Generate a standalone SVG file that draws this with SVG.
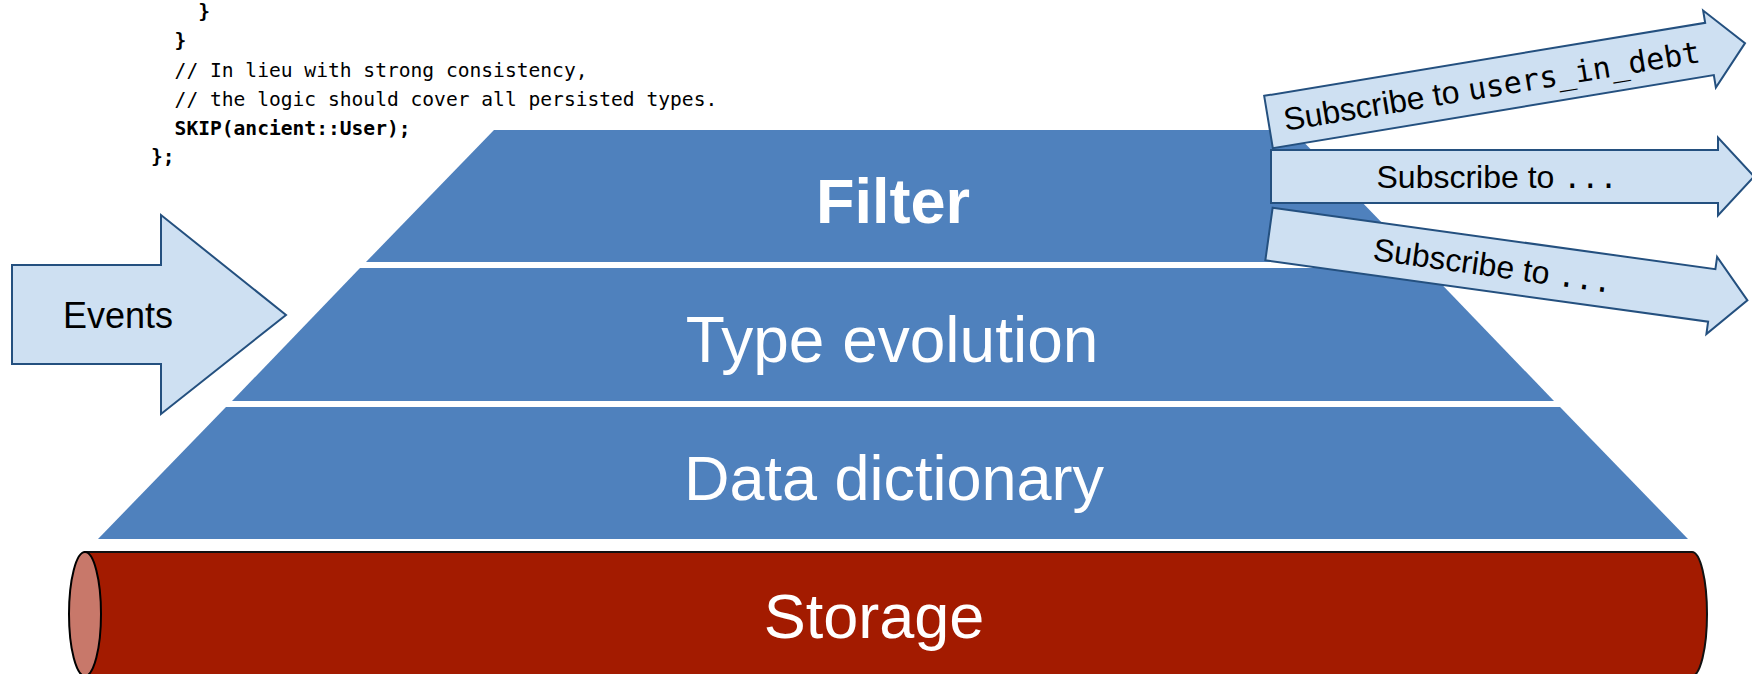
<svg xmlns="http://www.w3.org/2000/svg" width="1752" height="674" viewBox="0 0 1752 674">
  <defs>
    <style>
      .layer { fill: #4F81BD; }
      .layer-label { font-family: "Liberation Sans", Arial, sans-serif; fill: #FFFFFF; text-anchor: middle; font-size: 63px; }
      .block-arrow { fill: #CEE0F2; stroke: #24507F; stroke-width: 2; stroke-linejoin: miter; }
      .arrow-label { font-family: "Liberation Sans", Arial, sans-serif; font-size: 32px; fill: #000000; text-anchor: middle; }
      .mono { font-family: "DejaVu Sans Mono", "Liberation Mono", monospace; font-size: 30px; }
      .code { font-family: "DejaVu Sans Mono", "Liberation Mono", monospace; font-size: 19.6px; fill: #000000; }
      .code-bold { font-weight: bold; }
    </style>
    <!-- Shared outgoing block arrow, origin at the middle of its tail -->
    <path id="out-arrow" d="M0,-26.5 H447 V-39 L483,0 L447,39 V26.5 H0 Z"/>
  </defs>

  <rect width="1752" height="674" fill="#FFFFFF"/>

  <!-- Code excerpt -->
  <g id="code">
    <text class="code code-bold" x="198.2" y="18">}</text>
    <text class="code code-bold" x="174.6" y="47">}</text>
    <text class="code" x="174.6" y="77">// In lieu with strong consistency,</text>
    <text class="code" x="174.6" y="106">// the logic should cover all persisted types.</text>
    <text class="code code-bold" x="174.6" y="135">SKIP(ancient::User);</text>
    <text class="code code-bold" x="151" y="163">};</text>
  </g>

  <!-- Storage cylinder -->
  <g id="storage">
    <path d="M85,552 H1692 A15,62 0 0 1 1692,676 H85 Z" fill="#A31B00" stroke="#111111" stroke-width="2"/>
    <ellipse cx="85" cy="614" rx="16" ry="62" fill="#C8786A" stroke="#000000" stroke-width="2"/>
    <text class="layer-label" x="874" y="638">Storage</text>
  </g>

  <!-- Pyramid layers -->
  <g id="data-dictionary">
    <polygon class="layer" points="226,407 1560,407 1688,539 98,539"/>
    <text class="layer-label" x="894" y="500">Data dictionary</text>
  </g>

  <g id="type-evolution">
    <polygon class="layer" points="360,268 1426,268 1554,401 232,401"/>
    <text class="layer-label" x="892" y="362" style="font-size:64px">Type evolution</text>
  </g>

  <g id="filter">
    <polygon class="layer" points="494,130 1292,130 1420,262 366,262"/>
    <text class="layer-label" x="893" y="223" style="font-weight:bold">Filter</text>
  </g>

  <!-- Incoming events -->
  <g id="events">
    <path class="block-arrow" d="M12,265 H161 V215 L286,315 L161,414 V364 H12 Z"/>
    <text class="arrow-label" x="118" y="328" style="font-size:36px">Events</text>
  </g>

  <!-- Outgoing subscriptions -->
  <g id="connectors">
    <g id="subscribe-users-in-debt" transform="translate(1268.5,122) rotate(-9.4)">
      <use href="#out-arrow" class="block-arrow"/>
      <text class="arrow-label" x="226" y="11.5">Subscribe to <tspan class="mono">users_in_debt</tspan></text>
    </g>
    <g id="subscribe-2" transform="translate(1271,176.5)">
      <use href="#out-arrow" class="block-arrow"/>
      <text class="arrow-label" x="226" y="11.5">Subscribe to <tspan class="mono">...</tspan></text>
    </g>
    <g id="subscribe-3" transform="translate(1269,234) rotate(7.9)">
      <use href="#out-arrow" class="block-arrow"/>
      <text class="arrow-label" x="226" y="11.5">Subscribe to <tspan class="mono">...</tspan></text>
    </g>
  </g>
</svg>
